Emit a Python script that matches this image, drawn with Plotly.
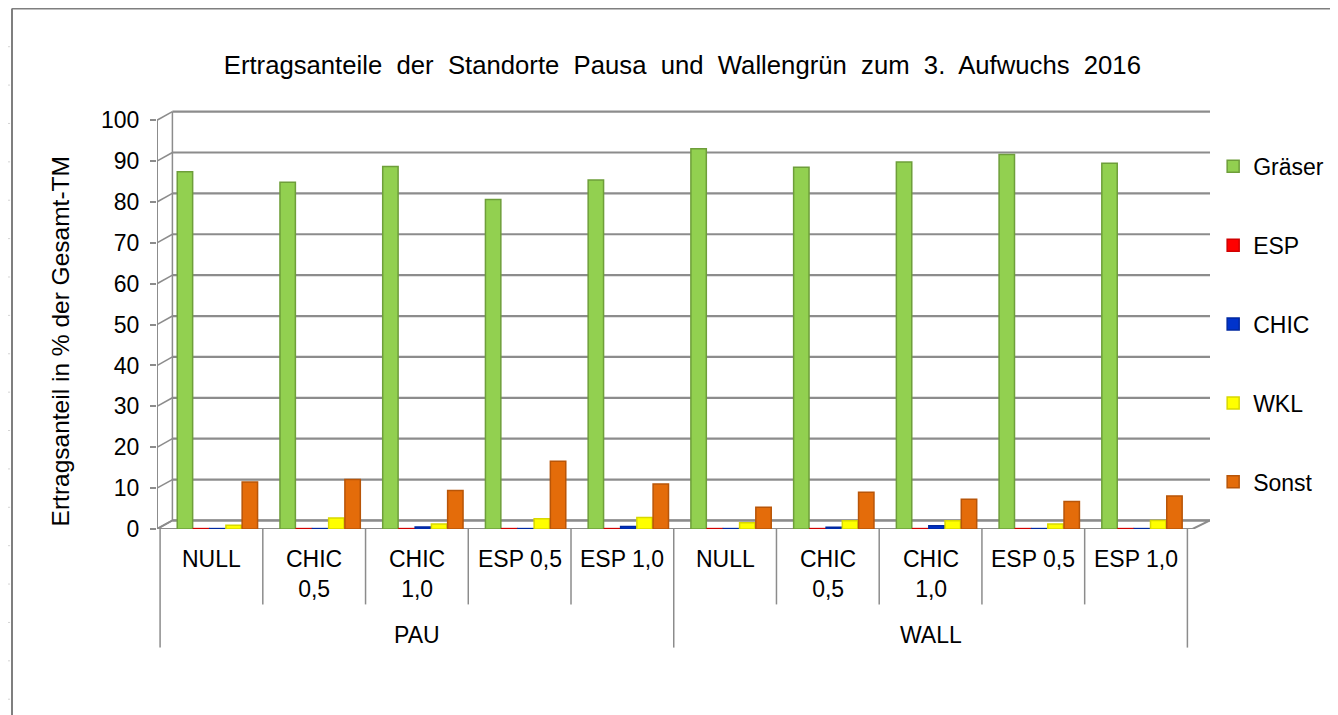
import plotly.graph_objects as go

sites = ["PAU"] * 5 + ["WALL"] * 5
treatments = ["NULL", "CHIC<br>0,5", "CHIC<br>1,0", "ESP 0,5", "ESP 1,0",
              "NULL", "CHIC<br>0,5", "CHIC<br>1,0", "ESP 0,5", "ESP 1,0"]
site_names = ["PAU", "WALL"]
y_ticks = [0, 10, 20, 30, 40, 50, 60, 70, 80, 90, 100]

graeser = [87.4, 84.8, 88.7, 80.6, 85.4, 93.0, 88.5, 89.8, 91.6, 89.5]
esp     = [0.1, 0.1, 0.1, 0.1, 0.1, 0.1, 0.1, 0.1, 0.1, 0.1]
chic    = [0.1, 0.1, 0.5, 0.1, 0.6, 0.1, 0.4, 0.8, 0.1, 0.1]
wkl     = [0.9, 2.7, 1.2, 2.5, 2.8, 1.5, 2.0, 2.0, 1.2, 2.1]
sonst   = [11.5, 12.1, 9.4, 16.6, 11.0, 5.3, 9.0, 7.3, 6.7, 8.1]

series = [
    ("Gräser", graeser, "#92D050", "#6E9E3A"),
    ("ESP", esp, "#FF0000", "#D00000"),
    ("CHIC", chic, "#0033CC", "#0028A0"),
    ("WKL", wkl, "#FFFF00", "#D8D800"),
    ("Sonst", sonst, "#E46C0A", "#B85508"),
]

keys = [f"{s} {t}" for s, t in zip(sites, treatments)]
FONT = "Liberation Sans, Arial, sans-serif"
GRID = "#8C8C8C"

# geometry (styles only)
X0, X1 = -0.53, 9.72
DX, DY = 0.15, 2.1
BW, STEP, OFF0 = 0.15, 0.158, -0.333

fig = go.Figure()
for i, (name, vals, col, edge) in enumerate(series):
    fig.add_trace(go.Bar(
        x=keys, y=vals, name=name,
        width=BW, offset=OFF0 + i * STEP,
        marker=dict(color=col, line=dict(color=edge, width=1.5)),
        legendgroup=f"g{i}",
    ))

shapes = []
# floor
shapes.append(dict(type="path", xref="x", yref="y", layer="below",
                   path=f"M {X0},0 L 9.55,0 L {X1},{DY} L {X0 + DX},{DY} Z",
                   fillcolor="white", line=dict(color=GRID, width=2)))
# back wall gridlines and side-wall diagonals
for v in y_ticks:
    shapes.append(dict(type="line", xref="x", yref="y", layer="below",
                       x0=X0 + DX, x1=X1, y0=v + DY, y1=v + DY,
                       line=dict(color=GRID, width=2.2)))
    shapes.append(dict(type="line", xref="x", yref="y", layer="below",
                       x0=X0, x1=X0 + DX, y0=v, y1=v + DY,
                       line=dict(color=GRID, width=1.5)))
# back wall left edge & front y axis line
shapes.append(dict(type="line", xref="x", yref="y", layer="below",
                   x0=X0 + DX, x1=X0 + DX, y0=DY, y1=100 + DY,
                   line=dict(color=GRID, width=1.5)))
shapes.append(dict(type="line", xref="x", yref="y",
                   x0=X0, x1=X0, y0=0, y1=100,
                   line=dict(color=GRID, width=2)))
# category dividers
for b in range(11):
    outer = b in (0, 5, 10)
    shapes.append(dict(type="line", xref="x", yref="paper",
                       x0=b - 0.5, x1=b - 0.5, y0=0,
                       y1=-0.283 if outer else -0.18,
                       line=dict(color=GRID, width=1.5)))
# chart frame
shapes.append(dict(type="line", xref="paper", yref="paper",
                   x0=-0.1377, x1=-0.1377, y0=-0.6, y1=1.242,
                   line=dict(color="#7F7F7F", width=2)))
shapes.append(dict(type="line", xref="paper", yref="paper",
                   x0=-0.1377, x1=1.2, y0=1.242, y1=1.242,
                   line=dict(color="#7F7F7F", width=2)))
# spreadsheet row marks at far left
for k in range(18):
    yp = (519 - (47 + 38.2 * k - 8)) / 417
    shapes.append(dict(type="line", xref="paper", yref="paper",
                       x0=-0.16, x1=-0.1395, y0=yp, y1=yp,
                       line=dict(color="#D4D4D4", width=1)))

annotations = []
for i, t in enumerate(treatments):
    two = "<br>" in t
    annotations.append(dict(
        x=keys[i], xref="x", y=-0.108 if two else -0.072, yref="paper",
        text=t, showarrow=False, xanchor="center", yanchor="middle",
        font=dict(family=FONT, size=23, color="black")))
for j, s in enumerate(site_names):
    annotations.append(dict(
        x=keys[2 + 5 * j], xref="x", y=-0.252, yref="paper",
        text=s, showarrow=False, xanchor="center", yanchor="middle",
        font=dict(family=FONT, size=23, color="black")))
annotations.append(dict(
    x=-0.092, xref="paper", y=0.448, yref="paper", textangle=-90,
    text="Ertragsanteil in % der Gesamt-TM", showarrow=False,
    xanchor="center", yanchor="middle",
    font=dict(family=FONT, size=24.5, color="black")))

fig.update_layout(
    width=1338, height=715,
    paper_bgcolor="white", plot_bgcolor="rgba(0,0,0,0)",
    barmode="overlay",
    margin=dict(l=149, r=136, t=102, b=194),
    title=dict(
        text="Ertragsanteile&nbsp; der&nbsp; Standorte&nbsp; Pausa&nbsp; und&nbsp; Wallengrün&nbsp; zum&nbsp; 3.&nbsp; Aufwuchs&nbsp; 2016",
        x=0.504, xanchor="center", xref="container",
        y=0.92, yanchor="middle", yref="container",
        font=dict(family=FONT, size=25.7, color="black"),
    ),
    font=dict(family=FONT, size=23, color="black"),
    legend=dict(
        x=1.003, y=0.917, xanchor="left", yanchor="top",
        font=dict(family=FONT, size=23, color="black"),
        tracegroupgap=46, bgcolor="rgba(0,0,0,0)",
    ),
    shapes=shapes, annotations=annotations,
)

fig.update_yaxes(
    range=[0, 102.5], tickvals=y_ticks,
    showgrid=False, showline=False, zeroline=False,
    ticks="outside", ticklen=6, tickcolor=GRID, tickwidth=2,
    ticklabelstandoff=6,
    tickfont=dict(family=FONT, size=23, color="black"),
)
fig.update_xaxes(
    type="category", categoryorder="array", categoryarray=keys,
    range=[X0, X1], showticklabels=False, ticks="",
    showline=False, showgrid=False, zeroline=False,
)

fig.write_html("out.html")
